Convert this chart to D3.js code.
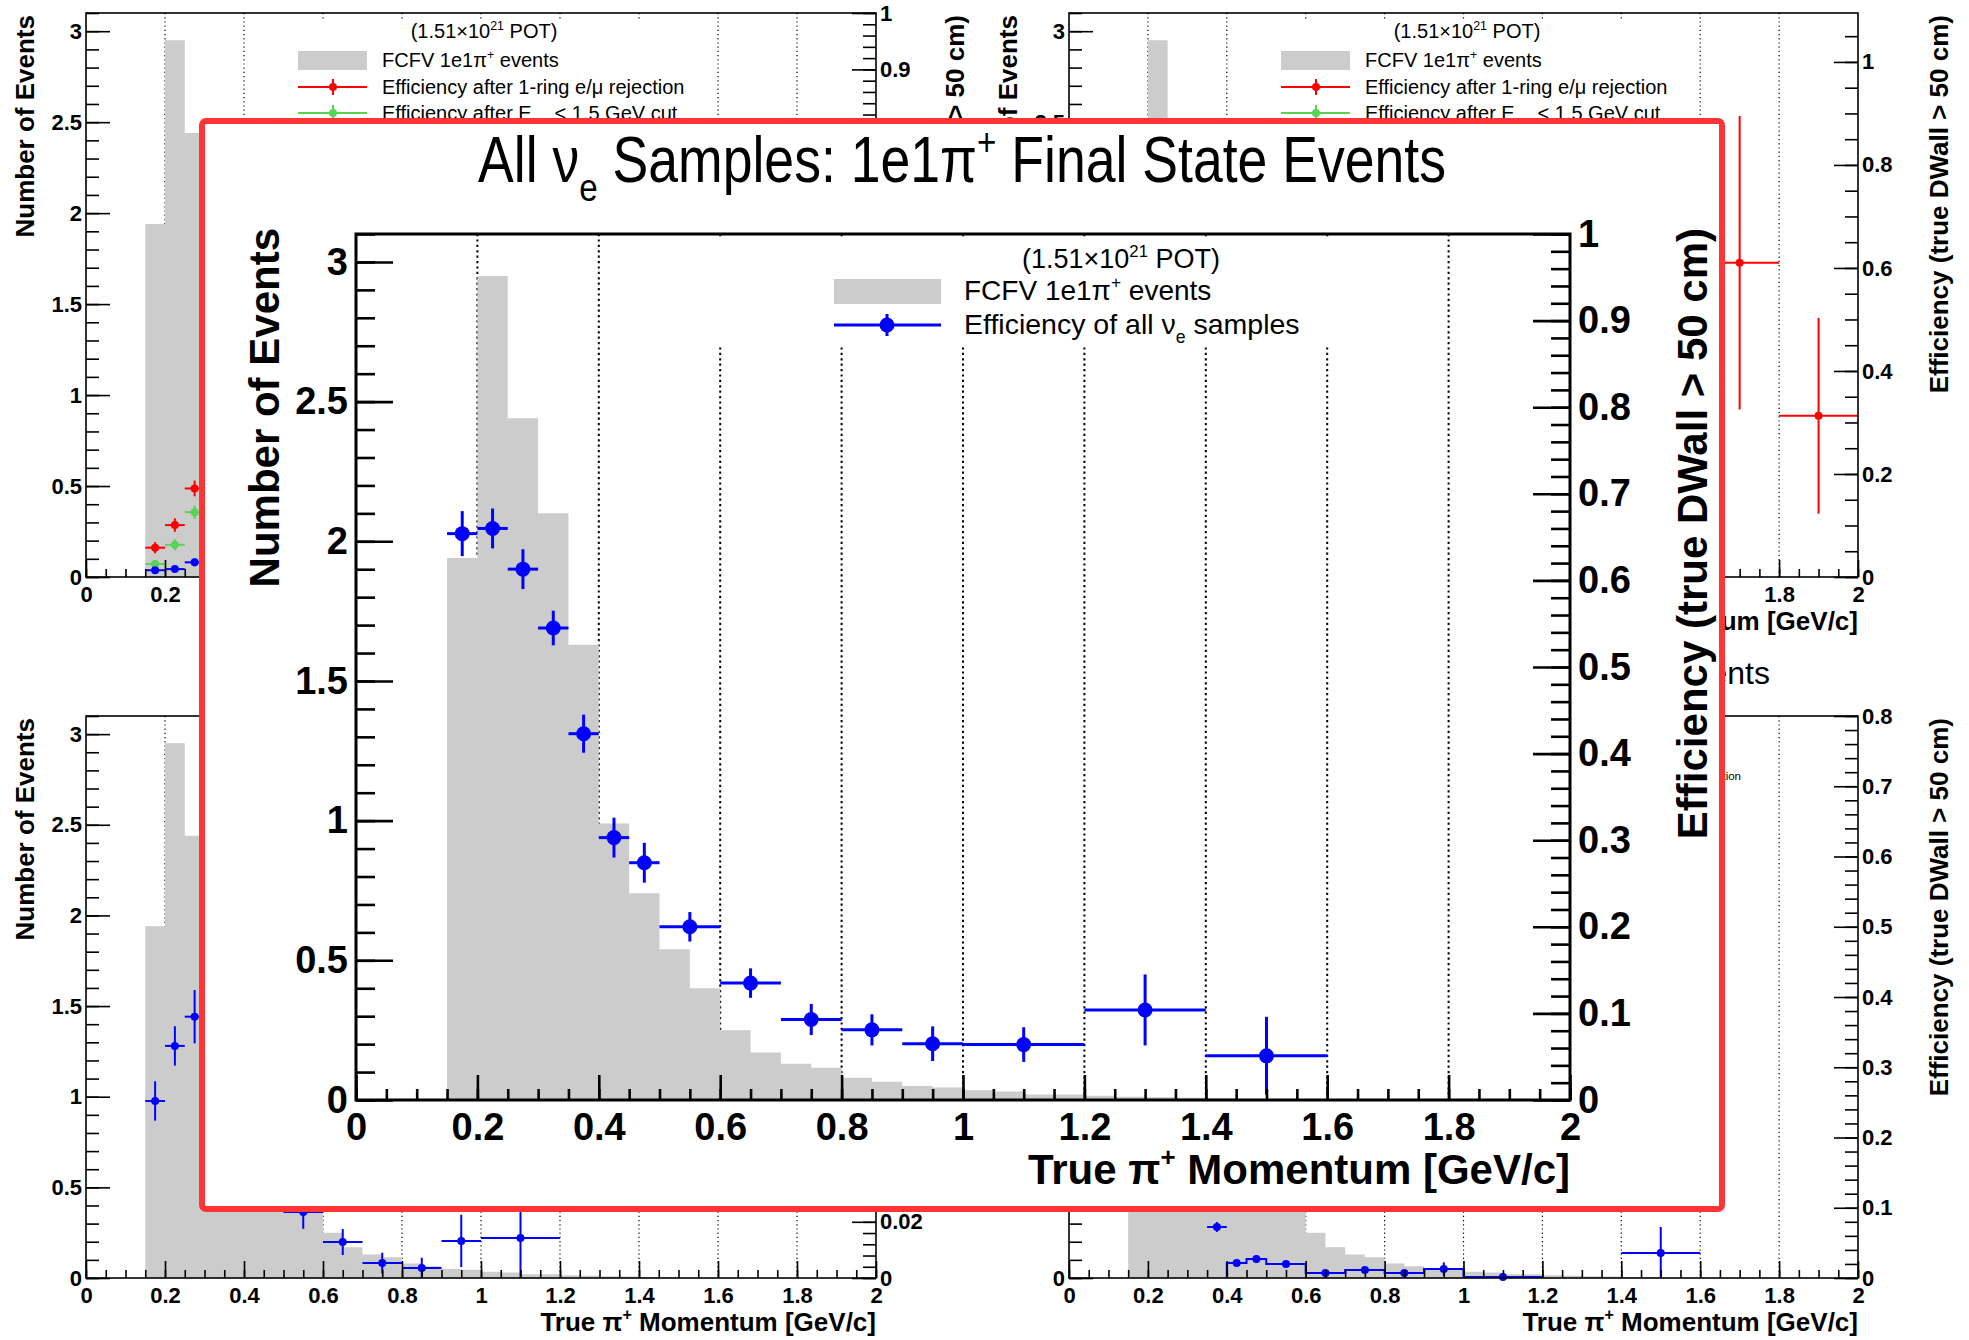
<!DOCTYPE html>
<html>
<head>
<meta charset="utf-8">
<script src="https://cdn.jsdelivr.net/npm/d3@7"></script>
<style>
  body { margin: 0; background: #fff; }
  svg { display: block; }
  text { font-family: "Liberation Sans", Arial, Helvetica, sans-serif; }
</style>
</head>
<body>
<svg id="chart" width="1969" height="1340"></svg>
<script>
// ---------------- data ----------------
const momentumTicks = [0, 0.2, 0.4, 0.6, 0.8, 1, 1.2, 1.4, 1.6, 1.8, 2];
const gridMomenta = [0.2, 0.4, 0.6, 0.8, 1.0, 1.2, 1.4, 1.6, 1.8];

// FCFV 1e1pi+ events, 0.05 GeV/c bins
const eventBinEdges = [0.15, 0.20, 0.25, 0.30, 0.35, 0.40, 0.45, 0.50, 0.55, 0.60, 0.65, 0.70, 0.75,
  0.80, 0.85, 0.90, 0.95, 1.00, 1.05, 1.10, 1.15, 1.20, 1.25, 1.30, 1.35, 1.40, 1.45, 1.50];
const eventCounts = [1.94, 2.95, 2.44, 2.10, 1.63, 0.99, 0.74, 0.54, 0.40, 0.25, 0.17, 0.13, 0.115,
  0.08, 0.065, 0.05, 0.045, 0.035, 0.03, 0.02, 0.02, 0.015, 0.012, 0.01, 0.008, 0.006, 0.004];

// Efficiency of all nu_e samples
const allNueLow  = [0.15, 0.20, 0.25, 0.30, 0.35, 0.40, 0.45, 0.5, 0.6, 0.7, 0.8, 0.9, 1.0, 1.2, 1.4];
const allNueHigh = [0.20, 0.25, 0.30, 0.35, 0.40, 0.45, 0.50, 0.6, 0.7, 0.8, 0.9, 1.0, 1.2, 1.4, 1.6];
const allNueEff  = [0.654, 0.660, 0.613, 0.545, 0.423, 0.303, 0.274, 0.200, 0.135, 0.093, 0.081, 0.065, 0.064, 0.104, 0.051];
const allNueErr  = [0.026, 0.023, 0.023, 0.020, 0.022, 0.023, 0.023, 0.017, 0.017, 0.018, 0.018, 0.020, 0.020, 0.041, 0.045];

// Upper-left sample: efficiencies after successive cuts
const ulLow  = [0.15, 0.20, 0.25];
const ulHigh = [0.20, 0.25, 0.30];
const ulRingEff = [0.052, 0.092, 0.157];
const ulRingErr = [0.010, 0.012, 0.014];
const ulEvisEff = [0.023, 0.057, 0.115];
const ulEvisErr = [0.007, 0.010, 0.012];
const ulAllEff  = [0.012, 0.014, 0.026];
const ulAllErr  = [0.005, 0.005, 0.007];

// Upper-right sample
const urLow  = [1.6, 1.8];
const urHigh = [1.8, 2.0];
const urRingEff = [0.610, 0.313];
const urRingErr = [0.285, 0.190];

// Lower-left sample
const llLow  = [0.15, 0.20, 0.25, 0.5, 0.6, 0.7, 0.8, 0.9, 1.0];
const llHigh = [0.20, 0.25, 0.30, 0.6, 0.7, 0.8, 0.9, 1.0, 1.2];
const llEff  = [0.063, 0.0826, 0.093, 0.0235, 0.0128, 0.0053, 0.0036, 0.0132, 0.0142];
const llErr  = [0.007, 0.007, 0.0095, 0.006, 0.0046, 0.0037, 0.0036, 0.0093, 0.0142];

// Lower-right sample
const lrLow  = [0.35, 0.40, 0.45, 0.5, 0.6, 0.7, 0.8, 0.9, 1.0, 1.4];
const lrHigh = [0.40, 0.45, 0.50, 0.6, 0.7, 0.8, 0.9, 1.0, 1.2, 1.6];
const lrEff  = [0.0726, 0.0214, 0.027, 0.0199, 0.0071, 0.0114, 0.0071, 0.0128, 0.0014, 0.0356];
const lrErr  = [0.007, 0.004, 0.0057, 0.003, 0.003, 0.003, 0.003, 0.0095, 0.002, 0.037];

// ---------------- helpers ----------------
const svg = d3.select("#chart");
const GREY = "#cccccc", BLUE = "#0000ff", RED = "#ff0000", GREEN = "#59d354";
const fmt = v => String(+v.toFixed(3));

const events = eventCounts.map((v, i) => ({ lo: eventBinEdges[i], hi: eventBinEdges[i + 1], v }));
const series = (lo, hi, eff, err) => eff.map((v, i) => ({ lo: lo[i], hi: hi[i], v, e: err[i] }));

// text with sub/superscripts: parts are strings or {sub:..} / {sup:..}
function rich(sel, parts, size) {
  let cur = 0;
  parts.forEach(p => {
    let t, off, fs;
    if (typeof p === "string") { t = p; off = 0; fs = size; }
    else if (p.sub !== undefined) { t = p.sub; off = 0.3 * size; fs = 0.62 * size; }
    else { t = p.sup; off = -0.42 * size; fs = 0.62 * size; }
    sel.append("tspan").attr("dy", off - cur).attr("font-size", fs).text(t);
    cur = off;
  });
  return sel;
}

const small = { tick: 22, title: 26, frame: 1.6, tickW: 1.6, majY: 24, minY: 13, majX: 17, minX: 8,
  padY: 4, padX: 9, r: 4, err: 2, dash: "1.2,3", gridW: 1.2, titleOff: 53 };
const big = { tick: 38, title: 42, frame: 3, tickW: 2.6, majY: 37, minY: 19, majX: 25, minX: 11,
  padY: 8, padX: 13, r: 7.5, err: 3, dash: "2.2,3.2", gridW: 2, titleOff: 84 };

function makePanel(P, S) {
  const g = svg.append("g");
  const x = d3.scaleLinear().domain([0, 2]).range([P.l, P.r]);
  const y = d3.scaleLinear().domain([0, 3.1]).range([P.b, P.t]);
  const ye = d3.scaleLinear().domain([0, P.effMax]).range([P.b, P.t]);

  // vertical grid
  g.append("g").selectAll("line").data(gridMomenta).join("line")
    .attr("x1", d => x(d)).attr("x2", d => x(d)).attr("y1", P.t).attr("y2", P.b)
    .attr("stroke", "#000").attr("stroke-width", S.gridW).attr("stroke-dasharray", S.dash);

  // event histogram
  const area = d3.area().curve(d3.curveStepAfter)
    .x(d => x(d[0])).y0(y(0)).y1(d => y(d[1]));
  const pts = events.map(d => [d.lo, d.v]);
  pts.push([events[events.length - 1].hi, events[events.length - 1].v]);
  g.append("path").attr("d", area(pts)).attr("fill", GREY);

  return { g, x, y, ye, P, S };
}

function drawPoints(pn, data, color, stepOutline) {
  const { g, x, ye, P, S } = pn;
  const clampE = v => Math.max(0, Math.min(P.effMax, v));
  if (stepOutline) {
    const line = d3.line().curve(d3.curveStepAfter).x(d => x(d[0])).y(d => ye(d[1]));
    const s = [[stepOutline[0].lo, 0]].concat(stepOutline.map(d => [d.lo, d.v]));
    s.push([stepOutline[stepOutline.length - 1].hi, stepOutline[stepOutline.length - 1].v]);
    g.append("path").attr("d", line(s)).attr("fill", "none").attr("stroke", color).attr("stroke-width", S.err);
  }
  const pg = g.append("g").attr("stroke", color).attr("stroke-width", S.err);
  pg.selectAll(".h").data(data).join("line")
    .attr("x1", d => x(d.lo)).attr("x2", d => x(d.hi)).attr("y1", d => ye(d.v)).attr("y2", d => ye(d.v));
  pg.selectAll(".v").data(data).join("line")
    .attr("x1", d => x((d.lo + d.hi) / 2)).attr("x2", d => x((d.lo + d.hi) / 2))
    .attr("y1", d => ye(clampE(d.v - d.e))).attr("y2", d => ye(clampE(d.v + d.e)));
  g.append("g").selectAll("circle").data(data).join("circle")
    .attr("cx", d => x((d.lo + d.hi) / 2)).attr("cy", d => ye(d.v)).attr("r", S.r).attr("fill", color);
}

function drawAxes(pn, effMajor, effMinor) {
  const { g, x, y, ye, P, S } = pn;
  const style = (sel, w) => {
    sel.select(".domain").remove();
    sel.selectAll("line").attr("stroke-width", w);
    sel.selectAll("text").attr("font-size", S.tick).attr("font-weight", "bold")
      .attr("font-family", '"Liberation Sans", Arial, sans-serif').attr("fill", "#000");
  };
  const bx = g.append("g").attr("transform", `translate(0,${P.b})`);
  bx.append("g").call(d3.axisBottom(x).tickValues(d3.range(0, 2.0001, 0.05)).tickSize(-S.minX).tickSizeOuter(0).tickFormat(""))
    .call(s => style(s, S.tickW));
  bx.append("g").call(d3.axisBottom(x).tickValues(momentumTicks).tickSize(-S.majX).tickSizeOuter(0).tickPadding(S.padX).tickFormat(fmt))
    .call(s => style(s, S.tickW));

  const ly = g.append("g").attr("transform", `translate(${P.l},0)`);
  ly.append("g").call(d3.axisLeft(y).tickValues(d3.range(0, 3.1001, 0.1)).tickSize(-S.minY).tickSizeOuter(0).tickFormat(""))
    .call(s => style(s, S.tickW));
  ly.append("g").call(d3.axisLeft(y).tickValues(d3.range(0, 3.0001, 0.5)).tickSize(-S.majY).tickSizeOuter(0).tickPadding(S.padY).tickFormat(fmt))
    .call(s => style(s, S.tickW));

  const ry = g.append("g").attr("transform", `translate(${P.r},0)`);
  ry.append("g").call(d3.axisRight(ye).tickValues(d3.range(0, P.effMax + 1e-6, effMinor)).tickSize(-S.minY).tickSizeOuter(0).tickFormat(""))
    .call(s => style(s, S.tickW));
  ry.append("g").call(d3.axisRight(ye).tickValues(d3.range(0, P.effMax + 1e-6, effMajor)).tickSize(-S.majY).tickSizeOuter(0).tickPadding(S.padY).tickFormat(fmt))
    .call(s => style(s, S.tickW));

  g.append("rect").attr("x", P.l).attr("y", P.t).attr("width", P.r - P.l).attr("height", P.b - P.t)
    .attr("fill", "none").attr("stroke", "#000").attr("stroke-width", S.frame);
}

function axisTitles(pn, leftX, rightX, endY) {
  const { g, P, S } = pn;
  g.append("text").attr("transform", `translate(${leftX},${endY}) rotate(-90)`).attr("text-anchor", "end")
    .attr("font-size", S.title).attr("font-weight", "bold").text("Number of Events");
  g.append("text").attr("transform", `translate(${rightX},${endY}) rotate(-90)`).attr("text-anchor", "end")
    .attr("font-size", S.title).attr("font-weight", "bold").text("Efficiency (true DWall > 50 cm)");
  rich(g.append("text").attr("x", P.r).attr("y", P.b + S.titleOff).attr("text-anchor", "end")
    .attr("font-size", S.title).attr("font-weight", "bold"),
    ["True  \u03c0", { sup: "+" }, " Momentum [GeV/c]"], S.title);
}

function cutLegend(pn) {
  const { g, P } = pn;
  const L = P.l;
  g.append("rect").attr("x", L + 204).attr("y", P.t + 8).attr("width", 415).attr("height", 150).attr("fill", "#fff");
  rich(g.append("text").attr("x", L + 398).attr("y", P.t + 25).attr("text-anchor", "middle").attr("font-size", 20),
    ["(1.51\u00d710", { sup: "21" }, " POT)"], 20);
  g.append("rect").attr("x", L + 212).attr("y", P.t + 38).attr("width", 69).attr("height", 19).attr("fill", GREY);
  rich(g.append("text").attr("x", L + 296).attr("y", P.t + 54).attr("font-size", 20),
    ["FCFV 1e1\u03c0", { sup: "+" }, " events"], 20);
  const rows = [
    { c: RED, y: P.t + 74, parts: ["Efficiency after 1-ring e/\u03bc rejection"] },
    { c: GREEN, y: P.t + 100, parts: ["Efficiency after E", { sub: "rec" }, " < 1.5 GeV cut"] }
  ];
  rows.forEach(r => {
    g.append("line").attr("x1", L + 212).attr("x2", L + 281).attr("y1", r.y).attr("y2", r.y).attr("stroke", r.c).attr("stroke-width", 2);
    g.append("line").attr("x1", L + 247).attr("x2", L + 247).attr("y1", r.y - 8).attr("y2", r.y + 8).attr("stroke", r.c).attr("stroke-width", 2);
    g.append("circle").attr("cx", L + 247).attr("cy", r.y).attr("r", 4).attr("fill", r.c);
    rich(g.append("text").attr("x", L + 296).attr("y", r.y + 7).attr("font-size", 20), r.parts, 20);
  });
}

// ---------------- background panels ----------------
// upper left
const ul = makePanel({ l: 86, r: 876, t: 13, b: 577, effMax: 1.0 }, small);
drawPoints(ul, series(ulLow, ulHigh, ulRingEff, ulRingErr), RED);
drawPoints(ul, series(ulLow, ulHigh, ulEvisEff, ulEvisErr), GREEN);
drawPoints(ul, series(ulLow, ulHigh, ulAllEff, ulAllErr), BLUE);
drawAxes(ul, 0.1, 0.02);
cutLegend(ul);
axisTitles(ul, 34, 964, 15);

// upper right
const ur = makePanel({ l: 1069, r: 1858, t: 13, b: 577, effMax: 1.095 }, small);
drawPoints(ur, series(urLow, urHigh, urRingEff, urRingErr), RED);
drawAxes(ur, 0.2, 0.05);
cutLegend(ur);
axisTitles(ur, 1017, 1948, 15);

// lower left
const ll = makePanel({ l: 86, r: 876, t: 716, b: 1278, effMax: 0.2 }, small);
drawPoints(ll, series(llLow, llHigh, llEff, llErr), BLUE);
drawAxes(ll, 0.02, 0.004);
axisTitles(ll, 34, 964, 718);

// lower right
const lr = makePanel({ l: 1069, r: 1858, t: 716, b: 1278, effMax: 0.8 }, small);
const lrSeries = series(lrLow, lrHigh, lrEff, lrErr);
drawPoints(lr, lrSeries, BLUE, lrSeries.slice(1, 9));
drawAxes(lr, 0.1, 0.02);
axisTitles(lr, 1017, 1948, 718);
svg.append("text").attr("x", 1770).attr("y", 684).attr("text-anchor", "end").attr("font-size", 32)
  .text("1e1\u03c0+ Final State Events");
svg.append("text").attr("x", 1741).attr("y", 780).attr("text-anchor", "end").attr("font-size", 11.5)
  .text("Efficiency after 1-ring e/\u03bc rejection");

// ---------------- highlighted panel ----------------
svg.append("rect").attr("x", 202).attr("y", 121).attr("width", 1520).attr("height", 1088).attr("rx", 4)
  .attr("fill", "#fff").attr("stroke", "#ff3535").attr("stroke-width", 6);

rich(svg.append("text").attr("x", 962).attr("y", 182).attr("text-anchor", "middle").attr("font-size", 64)
  .attr("textLength", 968).attr("lengthAdjust", "spacingAndGlyphs"),
  ["All \u03bd", { sub: "e" }, " Samples: 1e1\u03c0", { sup: "+" }, " Final State Events"], 64);

const main = makePanel({ l: 356, r: 1570, t: 234, b: 1100, effMax: 1.0 }, big);
// legend box sits over the grid
{
  const g = main.g;
  g.append("rect").attr("x", 700).attr("y", 237).attr("width", 685).attr("height", 108).attr("fill", "#fff");
  rich(g.append("text").attr("x", 1121).attr("y", 268).attr("text-anchor", "middle").attr("font-size", 27),
    ["(1.51\u00d710", { sup: "21" }, " POT)"], 27);
  g.append("rect").attr("x", 834).attr("y", 279).attr("width", 107).attr("height", 25).attr("fill", GREY);
  rich(g.append("text").attr("x", 964).attr("y", 300).attr("font-size", 28), ["FCFV 1e1\u03c0", { sup: "+" }, " events"], 28);
  g.append("line").attr("x1", 834).attr("x2", 941).attr("y1", 325).attr("y2", 325).attr("stroke", BLUE).attr("stroke-width", 3);
  g.append("line").attr("x1", 887).attr("x2", 887).attr("y1", 314).attr("y2", 336).attr("stroke", BLUE).attr("stroke-width", 3);
  g.append("circle").attr("cx", 887).attr("cy", 325).attr("r", 7.5).attr("fill", BLUE);
  rich(g.append("text").attr("x", 964).attr("y", 334).attr("font-size", 28.5),
    ["Efficiency of all \u03bd", { sub: "e" }, " samples"], 28.5);
}
drawPoints(main, series(allNueLow, allNueHigh, allNueEff, allNueErr), BLUE);
drawAxes(main, 0.1, 0.02);
axisTitles(main, 279, 1707, 228);
</script>
</body>
</html>
